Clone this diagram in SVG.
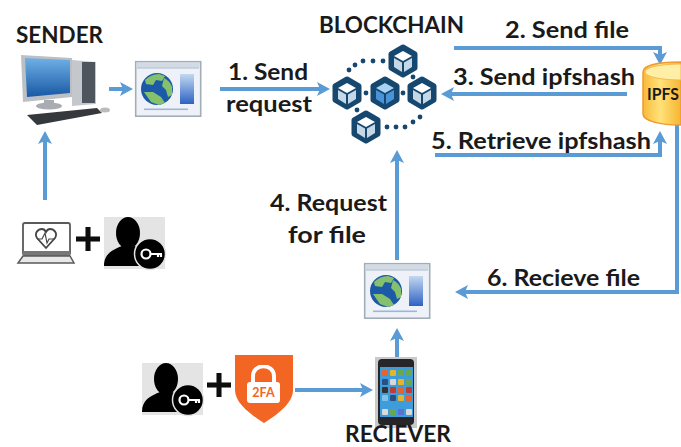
<svg xmlns="http://www.w3.org/2000/svg" xmlns:xlink="http://www.w3.org/1999/xlink" width="681" height="447" viewBox="0 0 681 447">
<style>
text{font-family:Lato,"Liberation Sans",sans-serif;font-weight:700;fill:#1a1a1a}
.t{font-size:23px}
.h{font-size:22px}
.c{fill:none;stroke:#5b9bd5;stroke-width:4;marker-end:url(#a)}
.icon{filter:url(#soft)}
.dot{fill:#17476e}
</style>
<defs>
<filter id="soft" x="-5%" y="-5%" width="110%" height="110%"><feGaussianBlur stdDeviation="0.45"/></filter>
<marker id="a" markerUnits="userSpaceOnUse" markerWidth="13" markerHeight="14" refX="3" refY="7" orient="auto"><path d="M0 0L13 7L0 14L3 7Z" fill="#5b9bd5"/></marker>
<linearGradient id="scr" x1="0" y1="0" x2="0" y2="1"><stop offset="0" stop-color="#6fb0e6"/><stop offset="1" stop-color="#1a58a5"/></linearGradient>
<linearGradient id="bar" x1="0" y1="0" x2="0" y2="1"><stop offset="0" stop-color="#c3d8f0"/><stop offset="1" stop-color="#2d62c4"/></linearGradient>
<linearGradient id="cyl" x1="0" y1="0" x2="1" y2="0"><stop offset="0" stop-color="#f9b93a"/><stop offset=".45" stop-color="#ffe27a"/><stop offset="1" stop-color="#f7b52f"/></linearGradient>
<g id="browser">
<rect x="0.7" y="0.7" width="65" height="54.5" fill="#eef2f8" stroke="#a3adb8" stroke-width="1.6"/>
<rect x="1.5" y="1.5" width="63" height="5" fill="#d2dae4"/>
<rect x="2" y="6.5" width="62" height="1" fill="#a9b8c9"/>
<circle cx="22" cy="28" r="16" fill="#1f5aa8"/>
<path d="M10 19q6-6 14-6l6 2-3 5-6-1-3 5-7-1zM29 17q6 3 8 9l0 8-4 2-2-7-4-4zM9 31l9 0 8 5 4 6-6 2-8-3z" fill="#85c06c"/>
<rect x="45" y="13" width="14" height="30" fill="url(#bar)"/>
<rect x="9" y="47.500" width="44" height="1.600" fill="#9cb6d4"/>
</g>
<g id="cube">
<path d="M0-14L12-7V7L0 14L-12 7V-7Z" fill="#17476e" stroke="#17476e" stroke-width="5" stroke-linejoin="round"/>
<path d="M0-10L9-5L0 0L-9-5Z" fill="#fff"/>
<path d="M-9-3L-1 1.500V11L-9 6Z" fill="#c5d8e8"/>
<path d="M9-3L1 1.500V11L9 6Z" fill="#c5d8e8"/>
</g>
<g id="user">
<rect width="61" height="52" fill="#e4e4e4"/>
<ellipse cx="24" cy="16" rx="12" ry="16" fill="#000"/>
<path d="M0 49C0 37 8 33 18 29H30C40 33 48 36 48 49Z" fill="#000"/>
<circle cx="46" cy="37" r="15.500" fill="#000" stroke="#e4e4e4" stroke-width="1.500"/>
<circle cx="42" cy="37" r="4.500" fill="none" stroke="#fff" stroke-width="2.200"/>
<path d="M46.500 37H58M54 37V40M57 37V40" fill="none" stroke="#fff" stroke-width="2.200"/>
</g>
<path id="plus" d="M-12 0H12M0-12V12" fill="none" stroke="#0a0a0a" stroke-width="5"/>
</defs>

<g id="connectors">
<path class="c" d="M109 89H123"/>
<path class="c" d="M45 200V141"/>
<path class="c" d="M220 89H320"/>
<path class="c" d="M454 48H660V55"/>
<path class="c" d="M627 94H451"/>
<path class="c" d="M435 155H660V141"/>
<path class="c" d="M677 125V292H465"/>
<path class="c" d="M397 260V160"/>
<path class="c" d="M397 357V338"/>
<path class="c" d="M295 390H363"/>
</g>

<g id="sender">
<g class="icon">
<path d="M72 60L96 62V104L72 106Z" fill="#c4c8cc"/>
<rect x="82" y="62" width="13" height="41" fill="#50545b"/>
<path d="M21 55L72 58V97L23 102Z" fill="#bcc0c4"/>
<path d="M25 58L70 60V93L27 97Z" fill="url(#scr)"/>
<path d="M44 100H54V105H44Z" fill="#a9adb1"/>
<ellipse cx="49" cy="106" rx="13" ry="3.500" fill="#a9adb1"/>
<path d="M27 115L97 108L102 113L37 125Z" fill="#34383d"/>
<ellipse cx="105" cy="110" rx="5" ry="2.500" fill="#bbb"/>
</g>
<text class="h" x="16" y="43" textLength="87" lengthAdjust="spacingAndGlyphs">SENDER</text>
</g>
<g id="browser-sender" class="icon"><use xlink:href="#browser" x="135" y="61"/></g>
<g id="request-label">
<text class="t" x="228" y="80" textLength="80" lengthAdjust="spacingAndGlyphs">1. Send</text>
<text class="t" x="226" y="112" textLength="86" lengthAdjust="spacingAndGlyphs">request</text>
</g>

<g id="blockchain">
<text class="h" x="319" y="33" textLength="145" lengthAdjust="spacingAndGlyphs">BLOCKCHAIN</text>
<g class="icon">
<use xlink:href="#cube" x="403" y="61"/>
<use xlink:href="#cube" x="347" y="93"/>
<use xlink:href="#cube" x="422" y="93"/>
<use xlink:href="#cube" x="366" y="127"/>
<path d="M385 79L397 86V100L385 107L373 100V86Z" fill="#17476e" stroke="#17476e" stroke-width="5" stroke-linejoin="round"/>
<path d="M385 83L394 88L385 93L376 88Z" fill="#a9d3f2"/>
<path d="M376 90L384 94.500V104L376 99Z" fill="#4a94d8"/>
<path d="M394 90L386 94.500V104L394 99Z" fill="#4a94d8"/>
<circle class="dot" cx="349" cy="70" r="2.400"/><circle class="dot" cx="355" cy="65" r="2.400"/><circle class="dot" cx="363" cy="61" r="2.400"/><circle class="dot" cx="373" cy="61" r="2.400"/><circle class="dot" cx="383" cy="61" r="2.400"/>
<circle class="dot" cx="413" cy="77" r="2.400"/><circle class="dot" cx="357" cy="110" r="2.400"/><circle class="dot" cx="366" cy="93" r="2.400"/><circle class="dot" cx="403" cy="93" r="2.400"/>
<circle class="dot" cx="420" cy="117" r="2.400"/><circle class="dot" cx="413" cy="122" r="2.400"/><circle class="dot" cx="405" cy="127" r="2.400"/><circle class="dot" cx="396" cy="127" r="2.400"/><circle class="dot" cx="387" cy="127" r="2.400"/>
</g>
</g>

<g id="ipfs">
<path class="icon" d="M643 72V114C643 121 660 125 681 125V62C660 62 643 65 643 72Z" fill="url(#cyl)" stroke="#f09a2e" stroke-width="1.500"/>
<path class="icon" d="M645 72C645 77 662 80 681 80V64C662 64 645 67 645 72Z" fill="#ffeea6" stroke="#f5b84a" stroke-width="1"/>
<text x="647" y="100" font-size="17" textLength="32" lengthAdjust="spacingAndGlyphs">IPFS</text>
</g>

<g id="connector-labels">
<text class="t" x="505" y="38" textLength="124" lengthAdjust="spacingAndGlyphs">2. Send file</text>
<text class="t" x="453" y="85" textLength="182" lengthAdjust="spacingAndGlyphs">3. Send ipfshash</text>
<text class="t" x="431" y="149" textLength="220" lengthAdjust="spacingAndGlyphs">5. Retrieve ipfshash</text>
<text class="t" x="270" y="211" textLength="117" lengthAdjust="spacingAndGlyphs">4. Request</text>
<text class="t" x="288" y="243" textLength="78" lengthAdjust="spacingAndGlyphs">for file</text>
<text class="t" x="487" y="286" textLength="153" lengthAdjust="spacingAndGlyphs">6. Recieve file</text>
</g>

<g id="sender-auth">
<g class="icon" id="laptop">
<rect x="23" y="223" width="47" height="32" rx="2" fill="#fff" stroke="#5a5a5a" stroke-width="1.800"/>
<rect x="23" y="251" width="47" height="5" fill="#777"/>
<path d="M23 256H70L74 263H18Z" fill="#e8e8e8" stroke="#5a5a5a" stroke-width="1.500"/>
<path d="M46 248L37 238C34 233 38 229 42 229C44 229 45 230 46 232C47 230 48 229 50 229C54 229 58 233 55 238Z" fill="none" stroke="#444" stroke-width="1.800"/>
<path d="M37 239H42L45 233L47 243L49 239H55" fill="none" stroke="#444" stroke-width="1.200"/>
</g>
<use class="icon" xlink:href="#plus" x="88" y="239"/>
<use class="icon" xlink:href="#user" x="104" y="217"/>
</g>

<g id="browser-receiver" class="icon"><use xlink:href="#browser" x="364" y="263"/></g>

<g id="receiver-auth">
<use class="icon" xlink:href="#user" x="142" y="363"/>
<use class="icon" xlink:href="#plus" x="219" y="385"/>
<g id="shield-2fa">
<path class="icon" d="M235 355H293V390C293 403 278 414 264 423C250 414 235 403 235 390Z" fill="#f26522"/>
<path class="icon" d="M253 383V376C253 363 274 363 274 376V383" fill="none" stroke="#fff" stroke-width="4"/>
<rect class="icon" x="247" y="382" width="33" height="21" rx="3" fill="#fff"/>
<text x="263.500" y="397" font-size="12.500" text-anchor="middle" style="fill:#f26522">2FA</text>
</g>
</g>

<g id="receiver">
<g class="icon">
<rect x="375" y="357" width="42" height="71" fill="#c9c9c9"/>
<rect x="378" y="359" width="36" height="66" rx="4" fill="#26282c"/>
<rect x="380" y="367" width="33" height="50" fill="#3d9ddc"/>
<g fill="#e8622c"><rect x="382" y="370" width="6" height="6" rx="1"/><rect x="398" y="387" width="6" height="6" rx="1"/><rect x="406" y="395" width="6" height="6" rx="1"/></g>
<g fill="#e6b32c"><rect x="390" y="370" width="6" height="6" rx="1"/><rect x="398" y="379" width="6" height="6" rx="1"/><rect x="398" y="395" width="6" height="6" rx="1"/></g>
<g fill="#6aa84f"><rect x="398" y="370" width="6" height="6" rx="1"/><rect x="406" y="370" width="6" height="6" rx="1"/><rect x="406" y="379" width="6" height="6" rx="1"/><rect x="390" y="409" width="6" height="6" rx="1"/></g>
<g fill="#2c4f80"><rect x="382" y="379" width="6" height="6" rx="1"/><rect x="390" y="395" width="6" height="6" rx="1"/></g>
<g fill="#d9d9d9"><rect x="390" y="379" width="6" height="6" rx="1"/><rect x="382" y="409" width="6" height="6" rx="1"/><rect x="406" y="409" width="6" height="6" rx="1"/></g>
<g fill="#c23b32"><rect x="390" y="387" width="6" height="6" rx="1"/><rect x="406" y="387" width="6" height="6" rx="1"/></g>
<rect x="382" y="387" width="6" height="6" rx="1" fill="#333"/>
<rect x="382" y="395" width="6" height="6" rx="1" fill="#7fc4e8"/>
<rect x="398" y="409" width="6" height="6" rx="1" fill="#5b6fd0"/>
</g>
<text class="h" x="345" y="442" textLength="106" lengthAdjust="spacingAndGlyphs">RECIEVER</text>
</g>
</svg>
